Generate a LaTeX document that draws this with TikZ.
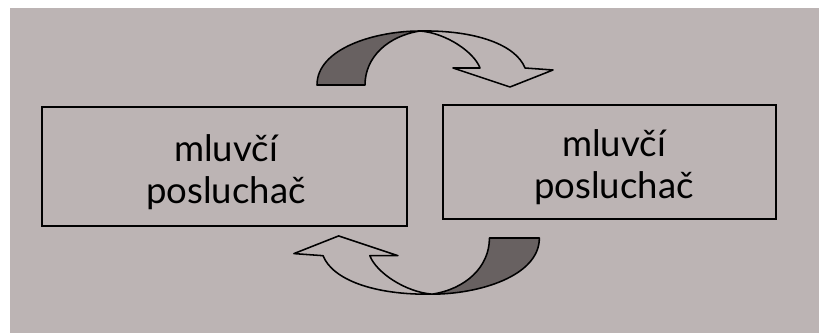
\documentclass[tikz,border=0pt]{standalone}
\usepackage{fontspec}
\setmainfont{Lato}

\definecolor{paper}{RGB}{188,180,180}
\definecolor{backside}{RGB}{104,97,97}

\tikzset{
	box/.style={draw, line width=1.3pt, minimum width=#1, inner sep=0pt},
	role/.style={align=center, font=\fontsize{26}{30}\selectfont},
	turnline/.style={line width=1.1pt, line join=round},
	% curved arrow, twisted at the top, drawn round its own centre
	turn/.pic={
		\draw[turnline, fill=backside] (-109,-75) -- (-61,-75) .. controls (-61,-103) and (-38,-124) .. (-6,-129) .. controls (-50,-129) and (-109,-112) .. (-109,-75) -- cycle;
		\draw[turnline] (-6,-129) .. controls (50,-130) and (90,-115) .. (99,-92) -- (127,-90) -- (84,-73) -- (27,-92) -- (54,-92) .. controls (48,-108) and (20,-127) .. (-6,-129);
	}
}

\begin{document}
\begin{tikzpicture}[x=0.025cm, y=-0.025cm]
	\useasboundingbox (0,0) rectangle (819,333);
	\fill[white] (0,0) rectangle (819,333);
	\fill[paper] (10,8) rectangle (819,333);

	\node[box=9.125cm, minimum height=2.975cm] (left) at (224.5,166.5) {};
	\node[role] (lrole) at (226,172) {mluvčí\\posluchač};

	\node[box=8.325cm, minimum height=2.85cm] (right) at (609.5,162) {};
	\node[role] (rrole) at (614,167) {mluvčí\\posluchač};

	\pic at (426,160) {turn};
	\pic[rotate=180, scale=1.04] at (426,160) {turn};
\end{tikzpicture}
\end{document}
